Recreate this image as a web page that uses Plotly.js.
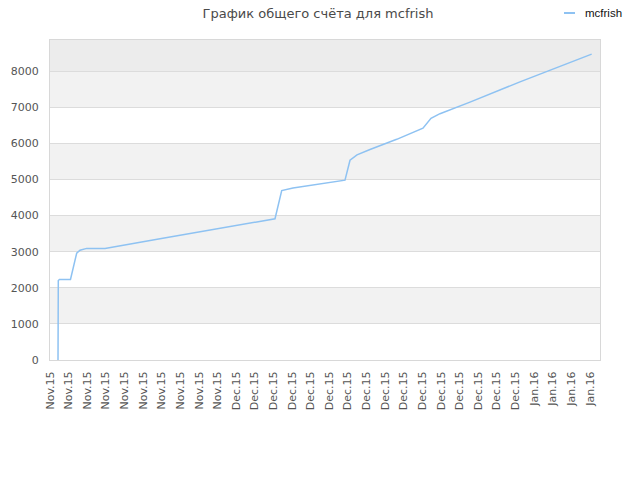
<!DOCTYPE html>
<html>
<head>
<meta charset="utf-8">
<script src="https://cdn.plot.ly/plotly-3.0.1.min.js"></script>
<style>
  html, body { margin: 0; padding: 0; background: #fff; }
  #chart { width: 640px; height: 480px; }
</style>
</head>
<body>
<div id="chart"></div>
<script>
// category labels along the x axis
const dateLabels = [
  "Nov.15", "Nov.15", "Nov.15", "Nov.15", "Nov.15", "Nov.15", "Nov.15", "Nov.15", "Nov.15", "Nov.15",
  "Dec.15", "Dec.15", "Dec.15", "Dec.15", "Dec.15", "Dec.15", "Dec.15", "Dec.15", "Dec.15", "Dec.15",
  "Dec.15", "Dec.15", "Dec.15", "Dec.15", "Dec.15", "Dec.15", "Jan.16", "Jan.16", "Jan.16", "Jan.16"
];

// position of each point, in label slots (0 = first label)
const pointPos = [
  0.43, 0.446, 0.51, 1.10, 1.434, 1.611, 1.971, 2.954, 5.908, 12.084,
  12.444, 13.05, 15.843, 16.112, 16.488, 17.186, 18.62, 20.03, 20.46, 20.945,
  22.556, 25.24, 29.09
];

// total score at each point
const totalScore = [
  0, 2200, 2230, 2230, 2960, 3040, 3090, 3090, 3360, 3910,
  4690, 4760, 4980, 5530, 5680, 5830, 6110, 6420, 6690, 6820,
  7140, 7700, 8470
];

const playerName = "mcfrish";
const lineColor = "#8ec2f2";

const yTop = 8860;
const bands = [[1000, 2000, "#f2f2f2"], [3000, 4000, "#f2f2f2"], [5000, 6000, "#f2f2f2"],
               [7000, 8000, "#f2f2f2"], [8000, yTop, "#ececec"]];

var shapes = bands.map(function (b) {
  return {
    type: "rect", xref: "paper", yref: "y", x0: 0, x1: 1, y0: b[0], y1: b[1],
    fillcolor: b[2], line: { width: 0 }, layer: "below",
  };
});
// legend sample line
shapes.push({
  type: "line", xref: "paper", yref: "paper",
  x0: (564 - 50) / 550, x1: (575 - 50) / 550,
  y0: (360 - 13) / 320, y1: (360 - 13) / 320,
  line: { color: lineColor, width: 2 },
});

var data = [{
  name: playerName,
  x: pointPos,
  y: totalScore,
  mode: "lines",
  type: "scatter",
  line: { color: lineColor, width: 1.5 },
  hoverinfo: "y",
}];

var layout = {
  width: 640,
  height: 480,
  margin: { l: 50, r: 40, t: 40, b: 120 },
  paper_bgcolor: "#ffffff",
  plot_bgcolor: "#ffffff",
  showlegend: false,
  title: {
    text: "График общего счёта для mcfrish",
    font: { family: "DejaVu Sans", size: 13, color: "#4a4a4a" },
    xref: "container", x: 318 / 640, xanchor: "center",
    yref: "container", y: 1 - 13 / 480, yanchor: "middle",
  },
  xaxis: {
    range: [0, 550 / 18.62],
    tickmode: "array",
    tickvals: dateLabels.map(function (_, i) { return i; }),
    ticktext: dateLabels,
    tickangle: -90,
    showgrid: false,
    zeroline: false,
    showline: true,
    mirror: true,
    linecolor: "#d8d8d8",
    linewidth: 1,
    ticks: "outside",
    ticklen: 6,
    tickcolor: "rgba(0,0,0,0)",
    tickfont: { family: "DejaVu Sans", size: 11, color: "#555555" },
  },
  yaxis: {
    range: [0, yTop],
    dtick: 1000,
    tick0: 0,
    showgrid: true,
    gridcolor: "#dcdcdc",
    zeroline: false,
    showline: true,
    mirror: true,
    linecolor: "#d8d8d8",
    linewidth: 1,
    ticks: "outside",
    ticklen: 8,
    tickcolor: "rgba(0,0,0,0)",
    tickfont: { family: "DejaVu Sans", size: 11, color: "#555555" },
  },
  shapes: shapes,
  annotations: [{
    text: playerName,
    xref: "paper", yref: "paper",
    x: (583 - 50) / 550, y: (360 - 13) / 320,
    xanchor: "left", yanchor: "middle",
    showarrow: false,
    font: { family: "Liberation Sans", size: 11.5, color: "#111111" },
  }],
};

Plotly.newPlot("chart", data, layout, { displayModeBar: false, staticPlot: true });
</script>
</body>
</html>
